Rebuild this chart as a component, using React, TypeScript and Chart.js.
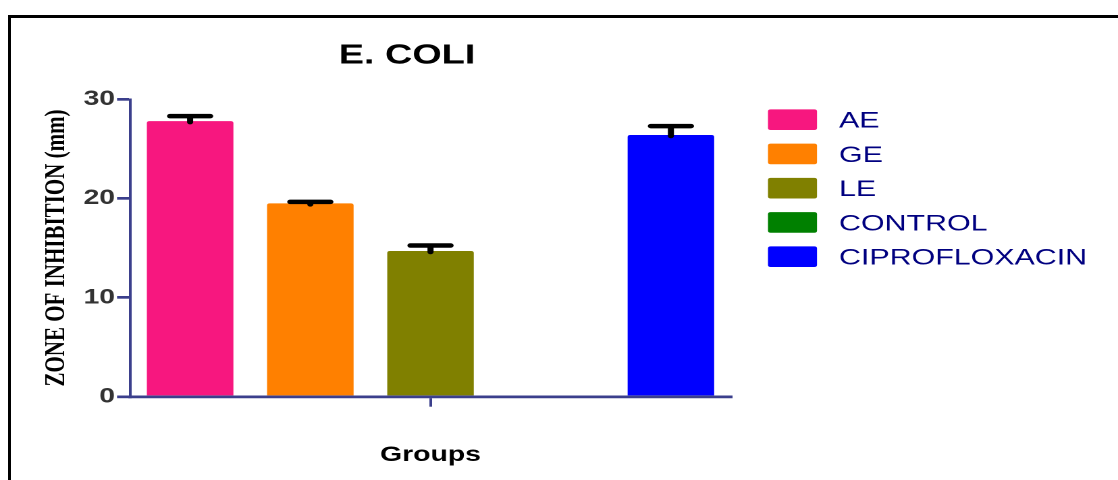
import { useEffect, useRef } from "react";
import { Chart, registerables } from "chart.js";

Chart.register(...registerables);

// ---- data ----
const categoryLabels = [""];
const groupLabels = ["AE", "GE", "LE", "CONTROL", "CIPROFLOXACIN"];
const meanValues = [27.8, 19.5, 14.7, 0, 26.4];
const errorValues = [0.5, 0.15, 0.55, 0, 0.9];
const barColors = ["#F7177F", "#FF8000", "#808000", "#008000", "#0000FF"];
const yTicks = [0, 10, 20, 30];
const chartTitle = "E. COLI";
const yTitle = "ZONE OF INHIBITION (mm)";
const xTitle = "Groups";

// ---- geometry (the chart is drawn in a narrower space and stretched horizontally) ----
const OUT_W = 1118;
const H = 480;
const W = 828;
const SX = OUT_W / W;
const cx = (x: number) => x / SX;

const AXIS = "#3B3F8C";
const SANS = "'Liberation Sans', Arial, sans-serif";
const SERIF = "'Liberation Serif', 'Times New Roman', serif";

const errorBarPlugin = {
  id: "errorBars",
  afterDatasetsDraw(chart: any) {
    const ctx = chart.ctx;
    const y = chart.scales.y;
    ctx.save();
    ctx.strokeStyle = "#000";
    ctx.lineWidth = 4.5;
    ctx.lineCap = "round";
    chart.data.datasets.forEach((_ds: any, i: number) => {
      const err = errorValues[i];
      if (!err) return;
      const bar = chart.getDatasetMeta(i).data[0];
      const top = y.getPixelForValue(meanValues[i] + err);
      const base = y.getPixelForValue(meanValues[i]);
      const half = bar.width * 0.232;
      ctx.beginPath();
      ctx.moveTo(bar.x - half, top);
      ctx.lineTo(bar.x + half, top);
      ctx.moveTo(bar.x, top);
      ctx.lineTo(bar.x, base + 1);
      ctx.stroke();
    });
    ctx.restore();
  },
};

const sideLegendPlugin = {
  id: "sideLegend",
  afterDraw(chart: any) {
    const ctx = chart.ctx;
    ctx.save();
    ctx.font = `bold 28px ${SANS}`;
    ctx.fillStyle = "#000";
    ctx.textAlign = "center";
    ctx.textBaseline = "alphabetic";
    ctx.fillText(chartTitle, cx(407), 63.3);

    const boxX = cx(768);
    const boxW = cx(817) - cx(768);
    const boxH = 20.7;
    ctx.font = `22.5px ${SANS}`;
    ctx.textAlign = "left";
    groupLabels.forEach((lab, i) => {
      const cy = 119.7 + i * 34.25;
      ctx.fillStyle = barColors[i];
      ctx.beginPath();
      if (ctx.roundRect) ctx.roundRect(boxX, cy - boxH / 2, boxW, boxH, 2);
      else ctx.rect(boxX, cy - boxH / 2, boxW, boxH);
      ctx.fill();
      ctx.fillStyle = "#000080";
      ctx.fillText(lab, cx(839), cy + 8);
    });
    ctx.restore();
  },
};

export default function App() {
  const ref = useRef<HTMLCanvasElement>(null);

  useEffect(() => {
    if (!ref.current) return;
    const chart = new Chart(ref.current, {
      type: "bar",
      data: {
        labels: categoryLabels,
        datasets: groupLabels.map((lab, i) => ({
          label: lab,
          data: [meanValues[i]],
          backgroundColor: barColors[i],
          borderWidth: 0,
          borderRadius: 2,
          categoryPercentage: 1,
          barPercentage: 0.72,
        })),
      },
      options: {
        responsive: false,
        devicePixelRatio: 2,
        animation: false,
        events: [],
        layout: {
          padding: { left: 0, top: 99.3, right: W - cx(731), bottom: 0 },
        },
        plugins: {
          legend: { display: false },
          title: { display: false },
          tooltip: { enabled: false },
        },
        scales: {
          x: {
            type: "category",
            offset: true,
            grid: {
              display: true,
              drawOnChartArea: false,
              drawTicks: true,
              tickLength: 10,
              offset: false,
              color: AXIS,
              lineWidth: 2,
            },
            border: { display: true, color: AXIS, width: 2.7 },
            ticks: { display: true, font: { size: 1 } },
            title: {
              display: true,
              text: xTitle,
              color: "#000",
              font: { family: SANS, size: 21, weight: "bold" },
              padding: { top: 0, bottom: 12 },
            },
            afterFit: (s: any) => {
              s.height = H - 396.7;
            },
          },
          y: {
            min: 0,
            max: 30,
            afterBuildTicks: (s: any) => {
              s.ticks = yTicks.map((v) => ({ value: v }));
            },
            ticks: {
              color: "#333333",
              padding: 1.5,
              font: { family: SANS, size: 21, weight: "bold" },
            },
            grid: {
              drawOnChartArea: false,
              drawTicks: true,
              tickLength: 9.6,
              color: AXIS,
              lineWidth: 2.7,
            },
            border: { display: true, color: AXIS, width: 2 },
            title: {
              display: true,
              text: yTitle,
              color: "#000",
              font: { family: SERIF, size: 21, weight: "bold" },
              padding: { top: 29.4, bottom: 0 },
            },
            afterFit: (s: any) => {
              s.width = cx(130);
            },
          },
        },
      } as any,
      plugins: [errorBarPlugin, sideLegendPlugin],
    });
    return () => chart.destroy();
  }, []);

  return (
    <div
      style={{
        position: "absolute",
        left: 0,
        top: 0,
        width: OUT_W,
        height: H,
        overflow: "hidden",
        background: "#fff",
      }}
    >
      <canvas
        ref={ref}
        width={W}
        height={H}
        style={{ position: "absolute", left: 0, top: 0, width: `${OUT_W}px`, height: `${H}px` }}
      />
      <div
        style={{
          position: "absolute",
          left: 8,
          top: 15,
          right: -4,
          bottom: -4,
          borderTop: "3px solid #000",
          borderLeft: "3px solid #000",
          pointerEvents: "none",
        }}
      />
    </div>
  );
}
